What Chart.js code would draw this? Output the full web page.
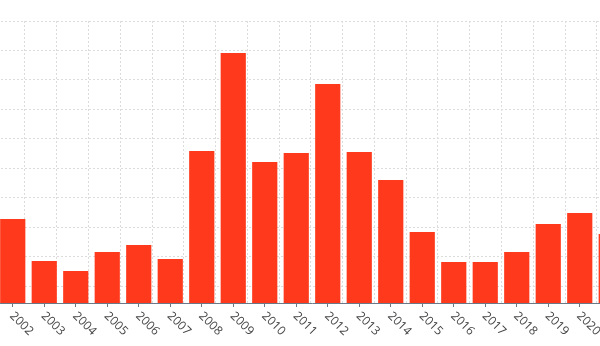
<!DOCTYPE html>
<html>
<head>
<meta charset="utf-8">
<script src="https://cdn.jsdelivr.net/npm/chart.js@4/dist/chart.umd.min.js"></script>
<style>
  html, body { margin: 0; padding: 0; background: #fff; overflow: hidden; }
  #wrap { position: absolute; left: -3px; top: 0; width: 630px; height: 346px; }
</style>
</head>
<body>
<div id="wrap"><canvas id="chart" width="630" height="346"></canvas></div>
<script>
// data (no y labels visible, so values are in the picture's own units)
const years = ["2002", "2003", "2004", "2005", "2006", "2007", "2008", "2009", "2010", "2011",
               "2012", "2013", "2014", "2015", "2016", "2017", "2018", "2019", "2020", "2021"];
const values = [84, 42, 32, 51, 58, 44, 152, 250, 141, 150,
                219, 151, 123, 71, 41, 41, 51, 79, 90, 69];
const yMax = 282;

const barColor = "#ff3a1c";
const gridColor = "#dcdcdc";

// rotated year labels going down to the right, placed from the x scale
const slantLabels = {
  id: "slantLabels",
  afterDraw(chart) {
    const xs = chart.scales.x;
    const ctx = chart.ctx;
    ctx.save();
    ctx.font = "12px 'Open Sans', sans-serif";
    ctx.fillStyle = "#444";
    ctx.textAlign = "left";
    ctx.textBaseline = "middle";
    years.forEach((y, i) => {
      const px = xs.getPixelForValue(i);
      ctx.save();
      ctx.translate(px - 1, xs.top + 11);
      ctx.rotate(Math.PI / 4);
      ctx.fillText(y, 0, 0);
      ctx.restore();
    });
    ctx.restore();
  }
};

// background grid axes: only dotted lines, no ticks, no border
function gridAxis(extra) {
  return Object.assign({
    type: "linear",
    ticks: { display: false, stepSize: 1, includeBounds: false },
    border: { display: false, dash: [2, 2] },
    grid: { color: gridColor, lineWidth: 1, drawTicks: false },
  }, extra);
}

new Chart(document.getElementById("chart").getContext("2d"), {
  type: "bar",
  data: {
    labels: years,
    datasets: [{
      data: values,
      backgroundColor: barColor,
      borderWidth: 0,
      barPercentage: 0.8,
      categoryPercentage: 1.0,
    }]
  },
  options: {
    responsive: false,
    animation: false,
    layout: { padding: { top: 21, left: 0, right: 0, bottom: 0 } },
    plugins: { legend: { display: false }, tooltip: { enabled: false } },
    scales: {
      x: {
        position: "bottom",
        ticks: { display: false },
        grid: { drawOnChartArea: false, offset: false, tickLength: 4, color: "#6b7888" },
        border: { color: "#6b7888", width: 1 },
        afterFit: s => { s.height = 43; }
      },
      y: { display: false, min: 0, max: yMax },
      gx: gridAxis({ axis: "x", position: "top", min: -0.83, max: 17.9,
                     afterFit: s => { s.height = 0; } }),
      gy: gridAxis({ axis: "y", position: "right", min: 0, max: 9.56, reverse: true,
                     afterFit: s => { s.width = 0; } })
    }
  },
  plugins: [slantLabels]
});
</script>
</body>
</html>
